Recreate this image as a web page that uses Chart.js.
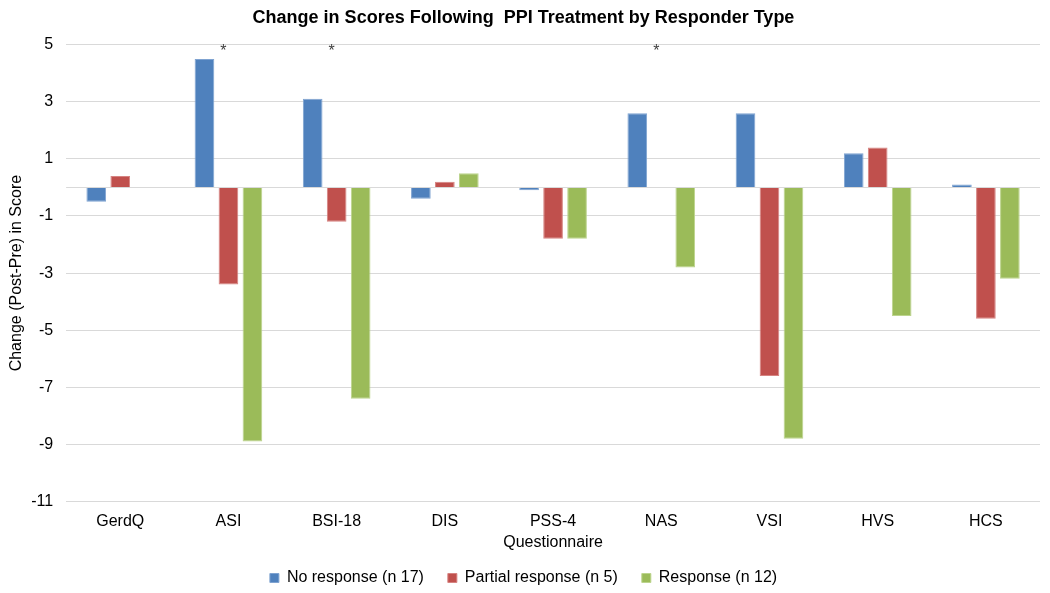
<!DOCTYPE html>
<html>
<head>
<meta charset="utf-8">
<script src="https://cdn.jsdelivr.net/npm/chart.js@4"></script>
<style>
  html, body { margin: 0; padding: 0; background: #fff; }
  #wrap { width: 1050px; height: 593px; }
</style>
</head>
<body>
<div id="wrap"><canvas id="myChart" width="1050" height="593"></canvas></div>
<script>
var questionnaires = ['GerdQ', 'ASI', 'BSI-18', 'DIS', 'PSS-4', 'NAS', 'VSI', 'HVS', 'HCS'];
var noResponse      = [-0.5, 4.5, 3.1, -0.4, -0.1, 2.6, 2.6, 1.2, 0.1];
var partialResponse = [0.4, -3.4, -1.2, 0.2, -1.8, 0, -6.6, 1.4, -4.6];
var fullResponse    = [0, -8.9, -7.4, 0.5, -1.8, -2.8, -8.8, -4.5, -3.2];
var sigMarks        = ['', '*', '*', '', '', '*', '', '', ''];
var seriesNames = ['No response (n 17)', 'Partial response (n 5)', 'Response (n 12)'];
var yMin = -11, yMax = 5, yStep = 2;

var fontFamily = "'Liberation Sans', Arial, sans-serif";

// line at zero plus the asterisks over significant groups
var extrasPlugin = {
	id: 'extras',
	afterDatasetsDraw: function(chart){
		var ctx = chart.ctx;
		var x = chart.scales.x, y = chart.scales.y;
		var area = chart.chartArea;
		ctx.save();
		ctx.strokeStyle = '#d9d9d9';
		ctx.lineWidth = 1;
		var y0 = Math.round(y.getPixelForValue(0)) + 0.5;
		ctx.beginPath();
		ctx.moveTo(area.left, y0);
		ctx.lineTo(area.right, y0);
		ctx.stroke();

		ctx.fillStyle = '#404040';
		ctx.font = '16px ' + fontFamily;
		ctx.textAlign = 'center';
		ctx.textBaseline = 'middle';
		for (var i = 0; i < sigMarks.length; i++){
			if (sigMarks[i] != ''){
				ctx.fillText(sigMarks[i], x.getPixelForValue(i) - 5, area.top + 7);
			};
		};
		ctx.restore();
	}
};

function makeSet(label, data, color, border){
	return {
		label: label,
		data: data,
		backgroundColor: color,
		borderColor: border,
		borderWidth: 1,
		categoryPercentage: 0.665,
		barPercentage: 0.82
	};
};

var ctx = document.getElementById('myChart').getContext('2d');
var myNewChart = new Chart(ctx, {
	type: 'bar',
	data: {
		labels: questionnaires,
		datasets: [
			makeSet(seriesNames[0], noResponse, '#4F81BD', '#7fa3d1'),
			makeSet(seriesNames[1], partialResponse, '#C0504D', '#d68381'),
			makeSet(seriesNames[2], fullResponse, '#9BBB59', '#bcd48d')
		]
	},
	options: {
		responsive: false,
		animation: false,
		layout: { padding: { left: 7, right: 10, top: 0, bottom: -3 } },
		plugins: {
			title: {
				display: true,
				text: 'Change in Scores Following  PPI Treatment by Responder Type',
				color: '#000',
				font: { family: fontFamily, size: 18, weight: 'bold' },
				padding: { top: 7, bottom: 16 }
			},
			legend: {
				position: 'bottom',
				labels: {
					color: '#000',
					boxWidth: 9,
					boxHeight: 9,
					padding: 24,
					font: { family: fontFamily, size: 16 }
				}
			},
			tooltip: { enabled: false }
		},
		scales: {
			x: {
				grid: { display: false, drawTicks: false },
				border: { display: false },
				ticks: { color: '#000', padding: 10, font: { family: fontFamily, size: 16 } },
				title: {
					display: true,
					text: 'Questionnaire',
					color: '#000',
					padding: { top: -8, bottom: -6 },
					font: { family: fontFamily, size: 16 }
				}
			},
			y: {
				min: yMin,
				max: yMax,
				grid: { color: '#d9d9d9', drawTicks: false },
				border: { display: false },
				ticks: {
					stepSize: yStep,
					color: '#000',
					padding: 13,
					font: { family: fontFamily, size: 16 }
				},
				title: {
					display: true,
					text: 'Change (Post-Pre) in Score',
					color: '#000',
					padding: { top: 0, bottom: -8 },
					font: { family: fontFamily, size: 16 }
				}
			}
		}
	},
	plugins: [extrasPlugin]
});
</script>
</body>
</html>
